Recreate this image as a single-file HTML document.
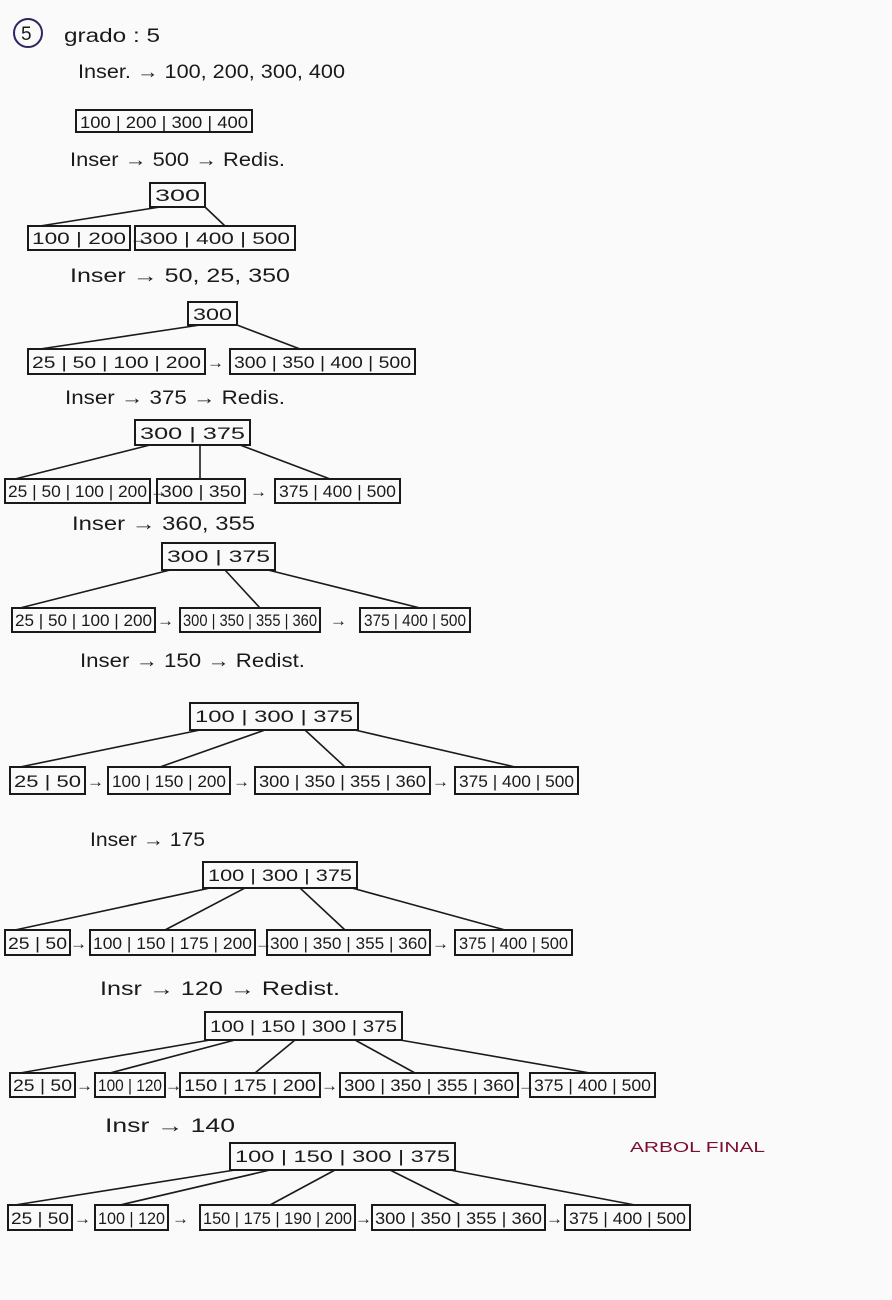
<!DOCTYPE html>
<html><head><meta charset="utf-8"><style>
html,body{margin:0;padding:0;background:#fafafa;}
svg{display:block}
text{font-family:"Liberation Sans",sans-serif;fill:#1a1a1a;}
.t{font-size:19px}
.k{font-size:17px}
rect{fill:none;stroke:#1a1a1a;stroke-width:2}
line{stroke:#1a1a1a;stroke-width:1.6}
</style></head><body>
<svg width="892" height="1300" viewBox="0 0 892 1300">
<circle cx="28" cy="33" r="14" fill="none" stroke="#2a2560" stroke-width="2"/>
<text x="21" y="40" class="t" fill="#2a2560">5</text>
<text x="64" y="42" class="t" textLength="96" lengthAdjust="spacingAndGlyphs">grado : 5</text>
<text x="78" y="78" class="t" textLength="267" lengthAdjust="spacingAndGlyphs">Inser. → 100, 200, 300, 400</text>
<rect x="76" y="110" width="176" height="22"/><text x="80" y="128" class="k" textLength="168" lengthAdjust="spacingAndGlyphs">100 | 200 | 300 | 400</text>
<text x="70" y="166" class="t" textLength="215" lengthAdjust="spacingAndGlyphs">Inser → 500 → Redis.</text>

<rect x="150" y="183" width="55" height="24"/><text x="155" y="201" class="k" textLength="45" lengthAdjust="spacingAndGlyphs">300</text>
<line x1="160" y1="207" x2="40" y2="226"/><line x1="205" y1="207" x2="225" y2="226"/>
<rect x="28" y="226" width="102" height="24"/><text x="32" y="244" class="k" textLength="94" lengthAdjust="spacingAndGlyphs">100 | 200</text>
<text x="130" y="244" class="k">→</text>
<rect x="135" y="226" width="160" height="24"/><text x="140" y="244" class="k" textLength="150" lengthAdjust="spacingAndGlyphs">300 | 400 | 500</text>
<text x="70" y="282" class="t" textLength="220" lengthAdjust="spacingAndGlyphs">Inser → 50, 25, 350</text>

<rect x="188" y="302" width="49" height="23"/><text x="193" y="320" class="k" textLength="39" lengthAdjust="spacingAndGlyphs">300</text>
<line x1="200" y1="325" x2="40" y2="349"/><line x1="237" y1="325" x2="300" y2="349"/>
<rect x="28" y="349" width="177" height="25"/><text x="32" y="368" class="k" textLength="169" lengthAdjust="spacingAndGlyphs">25 | 50 | 100 | 200</text>
<text x="207" y="368" class="k">→</text>
<rect x="230" y="349" width="185" height="25"/><text x="234" y="368" class="k" textLength="177" lengthAdjust="spacingAndGlyphs">300 | 350 | 400 | 500</text>
<text x="65" y="404" class="t" textLength="220" lengthAdjust="spacingAndGlyphs">Inser → 375 → Redis.</text>

<rect x="135" y="420" width="115" height="25"/><text x="140" y="439" class="k" textLength="105" lengthAdjust="spacingAndGlyphs">300 | 375</text>
<line x1="150" y1="445" x2="15" y2="479"/><line x1="200" y1="445" x2="200" y2="479"/><line x1="240" y1="445" x2="330" y2="479"/>
<rect x="5" y="479" width="145" height="24"/><text x="8" y="497" class="k" textLength="139" lengthAdjust="spacingAndGlyphs">25 | 50 | 100 | 200</text>
<text x="150" y="497" class="k">→</text>
<rect x="157" y="479" width="88" height="24"/><text x="161" y="497" class="k" textLength="80" lengthAdjust="spacingAndGlyphs">300 | 350</text>
<text x="250" y="497" class="k">→</text>
<rect x="275" y="479" width="125" height="24"/><text x="279" y="497" class="k" textLength="117" lengthAdjust="spacingAndGlyphs">375 | 400 | 500</text>
<text x="72" y="530" class="t" textLength="183" lengthAdjust="spacingAndGlyphs">Inser → 360, 355</text>

<rect x="162" y="543" width="113" height="27"/><text x="167" y="562" class="k" textLength="103" lengthAdjust="spacingAndGlyphs">300 | 375</text>
<line x1="170" y1="570" x2="20" y2="608"/><line x1="225" y1="570" x2="260" y2="608"/><line x1="268" y1="570" x2="420" y2="608"/>
<rect x="12" y="608" width="143" height="24"/><text x="15" y="626" class="k" textLength="137" lengthAdjust="spacingAndGlyphs">25 | 50 | 100 | 200</text>
<text x="157" y="626" class="k">→</text>
<rect x="180" y="608" width="140" height="24"/><text x="183" y="626" class="k" textLength="134" lengthAdjust="spacingAndGlyphs">300 | 350 | 355 | 360</text>
<text x="330" y="626" class="k">→</text>
<rect x="360" y="608" width="110" height="24"/><text x="364" y="626" class="k" textLength="102" lengthAdjust="spacingAndGlyphs">375 | 400 | 500</text>
<text x="80" y="667" class="t" textLength="225" lengthAdjust="spacingAndGlyphs">Inser → 150 → Redist.</text>

<rect x="190" y="703" width="168" height="27"/><text x="195" y="722" class="k" textLength="158" lengthAdjust="spacingAndGlyphs">100 | 300 | 375</text>
<line x1="200" y1="730" x2="20" y2="767"/><line x1="265" y1="730" x2="160" y2="767"/><line x1="305" y1="730" x2="345" y2="767"/><line x1="355" y1="730" x2="515" y2="767"/>
<rect x="10" y="767" width="75" height="27"/><text x="14" y="787" class="k" textLength="67" lengthAdjust="spacingAndGlyphs">25 | 50</text>
<text x="87" y="787" class="k">→</text>
<rect x="108" y="767" width="122" height="27"/><text x="112" y="787" class="k" textLength="114" lengthAdjust="spacingAndGlyphs">100 | 150 | 200</text>
<text x="233" y="787" class="k">→</text>
<rect x="255" y="767" width="175" height="27"/><text x="259" y="787" class="k" textLength="167" lengthAdjust="spacingAndGlyphs">300 | 350 | 355 | 360</text>
<text x="432" y="787" class="k">→</text>
<rect x="455" y="767" width="123" height="27"/><text x="459" y="787" class="k" textLength="115" lengthAdjust="spacingAndGlyphs">375 | 400 | 500</text>
<text x="90" y="846" class="t" textLength="115" lengthAdjust="spacingAndGlyphs">Inser → 175</text>

<rect x="203" y="862" width="154" height="26"/><text x="208" y="881" class="k" textLength="144" lengthAdjust="spacingAndGlyphs">100 | 300 | 375</text>
<line x1="210" y1="888" x2="15" y2="930"/><line x1="245" y1="888" x2="165" y2="930"/><line x1="300" y1="888" x2="345" y2="930"/><line x1="352" y1="888" x2="505" y2="930"/>
<rect x="5" y="930" width="65" height="25"/><text x="8" y="949" class="k" textLength="59" lengthAdjust="spacingAndGlyphs">25 | 50</text>
<text x="70" y="949" class="k">→</text>
<rect x="90" y="930" width="165" height="25"/><text x="93" y="949" class="k" textLength="159" lengthAdjust="spacingAndGlyphs">100 | 150 | 175 | 200</text>
<text x="255" y="949" class="k">→</text>
<rect x="267" y="930" width="163" height="25"/><text x="270" y="949" class="k" textLength="157" lengthAdjust="spacingAndGlyphs">300 | 350 | 355 | 360</text>
<text x="432" y="949" class="k">→</text>
<rect x="455" y="930" width="117" height="25"/><text x="459" y="949" class="k" textLength="109" lengthAdjust="spacingAndGlyphs">375 | 400 | 500</text>
<text x="100" y="995" class="t" textLength="240" lengthAdjust="spacingAndGlyphs">Insr → 120 → Redist.</text>

<rect x="205" y="1012" width="197" height="28"/><text x="210" y="1032" class="k" textLength="187" lengthAdjust="spacingAndGlyphs">100 | 150 | 300 | 375</text>
<line x1="210" y1="1040" x2="20" y2="1073"/><line x1="235" y1="1040" x2="110" y2="1073"/><line x1="295" y1="1040" x2="255" y2="1073"/><line x1="355" y1="1040" x2="415" y2="1073"/><line x1="400" y1="1040" x2="590" y2="1073"/>
<rect x="10" y="1073" width="65" height="24"/><text x="13" y="1091" class="k" textLength="59" lengthAdjust="spacingAndGlyphs">25 | 50</text>
<text x="76" y="1091" class="k">→</text>
<rect x="95" y="1073" width="70" height="24"/><text x="98" y="1091" class="k" textLength="64" lengthAdjust="spacingAndGlyphs">100 | 120</text>
<text x="165" y="1091" class="k">→</text>
<rect x="180" y="1073" width="140" height="24"/><text x="184" y="1091" class="k" textLength="132" lengthAdjust="spacingAndGlyphs">150 | 175 | 200</text>
<text x="321" y="1091" class="k">→</text>
<rect x="340" y="1073" width="178" height="24"/><text x="344" y="1091" class="k" textLength="170" lengthAdjust="spacingAndGlyphs">300 | 350 | 355 | 360</text>
<text x="518" y="1091" class="k">→</text>
<rect x="530" y="1073" width="125" height="24"/><text x="534" y="1091" class="k" textLength="117" lengthAdjust="spacingAndGlyphs">375 | 400 | 500</text>
<text x="105" y="1132" class="t" textLength="130" lengthAdjust="spacingAndGlyphs">Insr → 140</text>
<text x="630" y="1152" style="font-size:15px;fill:#7a1030" textLength="135" lengthAdjust="spacingAndGlyphs">ARBOL FINAL</text>

<rect x="230" y="1143" width="225" height="27"/><text x="235" y="1162" class="k" textLength="215" lengthAdjust="spacingAndGlyphs">100 | 150 | 300 | 375</text>
<line x1="235" y1="1170" x2="15" y2="1205"/><line x1="270" y1="1170" x2="120" y2="1205"/><line x1="335" y1="1170" x2="270" y2="1205"/><line x1="390" y1="1170" x2="460" y2="1205"/><line x1="450" y1="1170" x2="635" y2="1205"/>
<rect x="8" y="1205" width="64" height="25"/><text x="11" y="1224" class="k" textLength="58" lengthAdjust="spacingAndGlyphs">25 | 50</text>
<text x="74" y="1224" class="k">→</text>
<rect x="95" y="1205" width="73" height="25"/><text x="98" y="1224" class="k" textLength="67" lengthAdjust="spacingAndGlyphs">100 | 120</text>
<text x="172" y="1224" class="k">→</text>
<rect x="200" y="1205" width="155" height="25"/><text x="203" y="1224" class="k" textLength="149" lengthAdjust="spacingAndGlyphs">150 | 175 | 190 | 200</text>
<text x="355" y="1224" class="k">→</text>
<rect x="372" y="1205" width="173" height="25"/><text x="375" y="1224" class="k" textLength="167" lengthAdjust="spacingAndGlyphs">300 | 350 | 355 | 360</text>
<text x="546" y="1224" class="k">→</text>
<rect x="565" y="1205" width="125" height="25"/><text x="569" y="1224" class="k" textLength="117" lengthAdjust="spacingAndGlyphs">375 | 400 | 500</text>
</svg>
</body></html>
